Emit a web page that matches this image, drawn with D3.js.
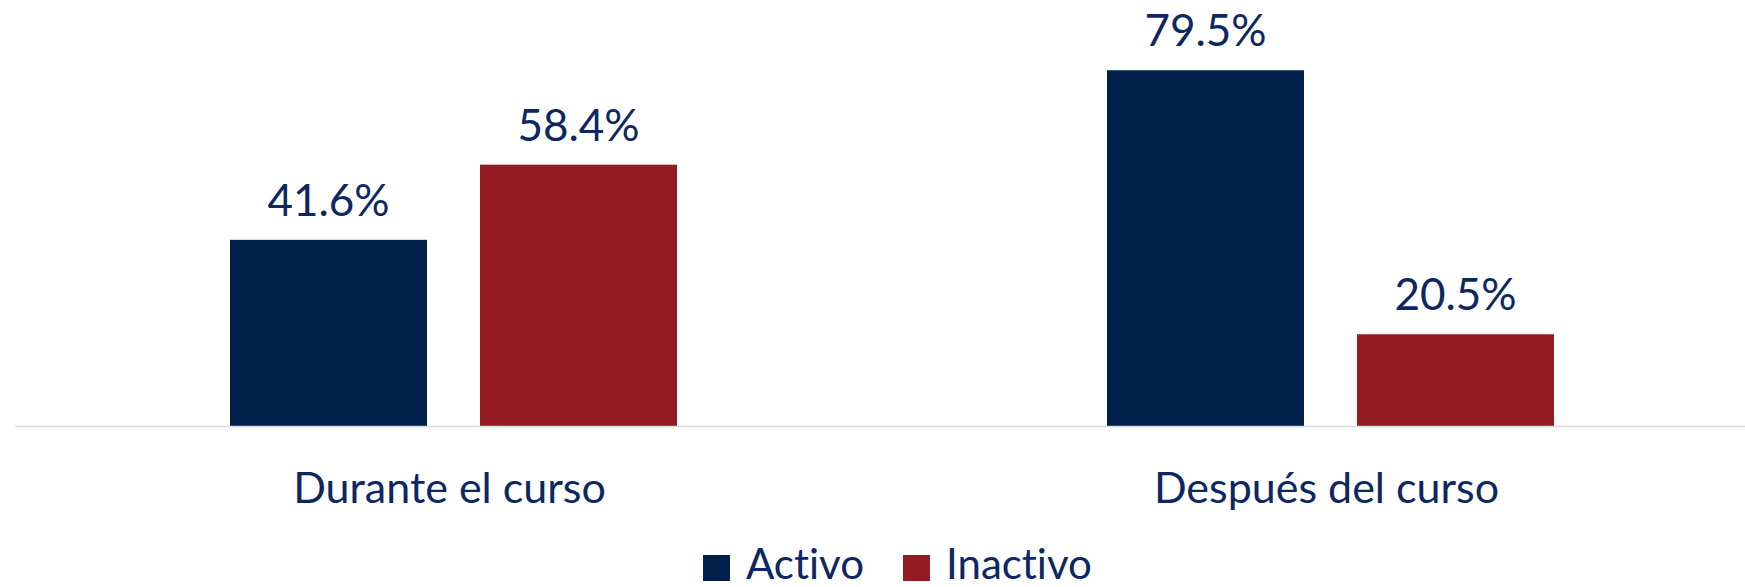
<!DOCTYPE html>
<html>
<head>
<meta charset="utf-8">
<script src="https://cdn.jsdelivr.net/npm/d3@7"></script>
<style>
  body { margin: 0; background: #fff; }
  text { font-family: Lato, "Noto Sans", sans-serif; fill: #0c2762; font-variant-ligatures: none; }
</style>
</head>
<body>
<div id="chart"></div>
<script>
const categories = ["Durante el curso", "Después del curso"];
const series = ["Activo", "Inactivo"];
const activo = [41.6, 79.5];
const inactivo = [58.4, 20.5];
const colors = ["#00214b", "#941b21"];

const width = 1745, height = 587;
const baseY = 426;

const svg = d3.select("#chart")
  .append("svg")
    .attr("width", width)
    .attr("height", height);

// plot area runs a bit past the right edge (cropped original)
const x0 = d3.scaleBand()
  .domain(categories)
  .range([15, 1769]);

const x1 = d3.scaleBand()
  .domain(series)
  .range([0, x0.bandwidth()])
  .paddingInner(0.212)
  .paddingOuter(0.86);

const y = d3.scaleLinear()
  .domain([0, 100])
  .range([baseY, baseY - 447.5]);

const rows = [];
categories.forEach((c, i) => {
  rows.push({cat: c, s: "Activo", v: activo[i]});
  rows.push({cat: c, s: "Inactivo", v: inactivo[i]});
});

svg.selectAll("rect.bar")
  .data(rows)
  .join("rect")
    .attr("class", "bar")
    .attr("x", d => x0(d.cat) + x1(d.s))
    .attr("y", d => y(d.v))
    .attr("width", x1.bandwidth())
    .attr("height", d => y(0) - y(d.v))
    .attr("fill", d => colors[series.indexOf(d.s)]);

// value labels
svg.selectAll("text.val")
  .data(rows)
  .join("text")
    .attr("class", "val")
    .attr("x", d => x0(d.cat) + x1(d.s) + x1.bandwidth() / 2)
    .attr("y", d => y(d.v) - 24)
    .attr("text-anchor", "middle")
    .style("font-size", "44px")
    .text(d => d.v.toFixed(1) + "%");

// x axis line
svg.append("line")
  .attr("x1", 15).attr("x2", width)
  .attr("y1", baseY + 0.5).attr("y2", baseY + 0.5)
  .attr("stroke", "#d9d9d9")
  .attr("stroke-width", 1.5);

// category labels
svg.selectAll("text.cat")
  .data(categories)
  .join("text")
    .attr("class", "cat")
    .attr("x", d => x0(d) + x0.bandwidth() / 2 - 4)
    .attr("y", 503)
    .attr("text-anchor", "middle")
    .style("font-size", "43px")
    .text(d => d);

// legend
const legendX = [703, 903];
const legend = svg.selectAll("g.leg")
  .data(series)
  .join("g")
    .attr("class", "leg")
    .attr("transform", (d, i) => `translate(${legendX[i]},555)`);

legend.append("rect")
  .attr("width", 27).attr("height", 26)
  .attr("fill", (d, i) => colors[i]);

legend.append("text")
  .attr("x", 43)
  .attr("y", 24)
  .style("font-size", "42px")
  .text(d => d);
</script>
</body>
</html>
